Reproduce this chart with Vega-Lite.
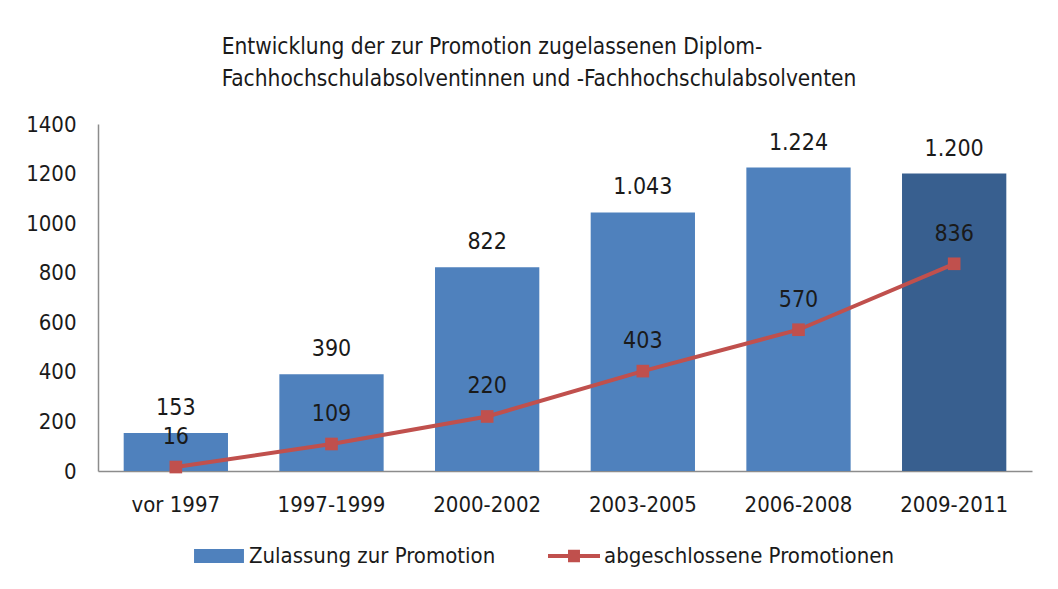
{
  "$schema": "https://vega.github.io/schema/vega-lite/v6.json",
  "width": 934,
  "height": 347,
  "autosize": {"type": "none"},
  "padding": {"left": 98, "top": 124, "right": 26, "bottom": 118},
  "background": "white",
  "config": {
    "font": "Liberation Sans Narrow, DejaVu Sans Condensed, sans-serif",
    "view": {"stroke": null},
    "locale": {"number": {"decimal": ",", "thousands": ".", "grouping": [3], "currency": ["", " €"]}}
  },
  "title": {
    "text": ["Entwicklung der zur Promotion zugelassenen Diplom-", "Fachhochschulabsolventinnen und -Fachhochschulabsolventen"],
    "anchor": "start",
    "dx": 196,
    "fontSize": 22.5,
    "fontWeight": "normal",
    "color": "#1a1a1a",
    "lineHeight": 32,
    "offset": 23
  },
  "data": {
    "values": [
      {"period": "vor 1997", "zulassung": 153, "abgeschlossen": 16},
      {"period": "1997-1999", "zulassung": 390, "abgeschlossen": 109},
      {"period": "2000-2002", "zulassung": 822, "abgeschlossen": 220},
      {"period": "2003-2005", "zulassung": 1043, "abgeschlossen": 403},
      {"period": "2006-2008", "zulassung": 1224, "abgeschlossen": 570},
      {"period": "2009-2011", "zulassung": 1200, "abgeschlossen": 836}
    ]
  },
  "encoding": {
    "x": {
      "field": "period",
      "type": "nominal",
      "sort": null,
      "scale": {"paddingInner": 0.33, "paddingOuter": 0.165},
      "axis": {
        "title": null,
        "labelAngle": 0,
        "labelFontSize": 22,
        "labelColor": "#1a1a1a",
        "labelPadding": 23,
        "ticks": false,
        "domainColor": "#8c8c8c",
        "domainWidth": 1.5
      }
    }
  },
  "layer": [
    {
      "mark": {"type": "bar"},
      "encoding": {
        "y": {
          "field": "zulassung",
          "type": "quantitative",
          "scale": {"domain": [0, 1400]},
          "axis": {
            "title": null,
            "values": [0, 200, 400, 600, 800, 1000, 1200, 1400],
            "format": "d",
            "grid": false,
            "ticks": false,
            "labelFontSize": 22,
            "labelColor": "#1a1a1a",
            "labelPadding": 22,
            "domainColor": "#8c8c8c",
            "domainWidth": 1.5
          }
        },
        "color": {
          "datum": "Zulassung zur Promotion",
          "condition": {"test": "datum.period === '2009-2011'", "value": "#385F8F"},
          "scale": {
            "domain": ["Zulassung zur Promotion", "abgeschlossene Promotionen"],
            "range": ["#4F81BD", "#C0504D"]
          },
          "legend": {
            "title": null,
            "orient": "none",
            "direction": "horizontal",
            "legendX": 95,
            "legendY": 406,
            "labelFontSize": 22,
            "labelColor": "#1a1a1a",
            "labelOffset": 4,
            "labelLimit": 400,
            "symbolSize": 2704,
            "columnPadding": 52,
            "encode": {
              "symbols": {
                "update": {
                  "shape": {"signal": "datum.value === 'Zulassung zur Promotion' ? 'M-0.96,-0.27H0.96V0.27H-0.96Z' : 'M-1,-0.08H-0.23V-0.24H0.23V-0.08H1V0.08H0.23V0.24H-0.23V0.08H-1Z'"},
                  "fill": {"signal": "datum.value === 'Zulassung zur Promotion' ? '#4F81BD' : '#C0504D'"},
                  "strokeWidth": {"value": 0},
                  "opacity": {"value": 1},
                  "fillOpacity": {"value": 1}
                }
              }
            }
          }
        }
      }
    },
    {
      "mark": {"type": "text", "baseline": "alphabetic", "dy": -18, "fontSize": 23, "color": "#1a1a1a"},
      "encoding": {
        "y": {"field": "zulassung", "type": "quantitative"},
        "text": {"field": "zulassung", "type": "quantitative", "format": ",d"}
      }
    },
    {
      "mark": {
        "type": "line",
        "strokeWidth": 4,
        "point": {"shape": "square", "size": 160, "filled": true, "color": "#C0504D", "opacity": 1}
      },
      "encoding": {
        "y": {"field": "abgeschlossen", "type": "quantitative"},
        "color": {"datum": "abgeschlossene Promotionen"}
      }
    },
    {
      "mark": {"type": "text", "baseline": "alphabetic", "dy": -23, "fontSize": 23, "color": "#1a1a1a"},
      "encoding": {
        "y": {"field": "abgeschlossen", "type": "quantitative"},
        "text": {"field": "abgeschlossen", "type": "quantitative", "format": ",d"}
      }
    }
  ]
}
